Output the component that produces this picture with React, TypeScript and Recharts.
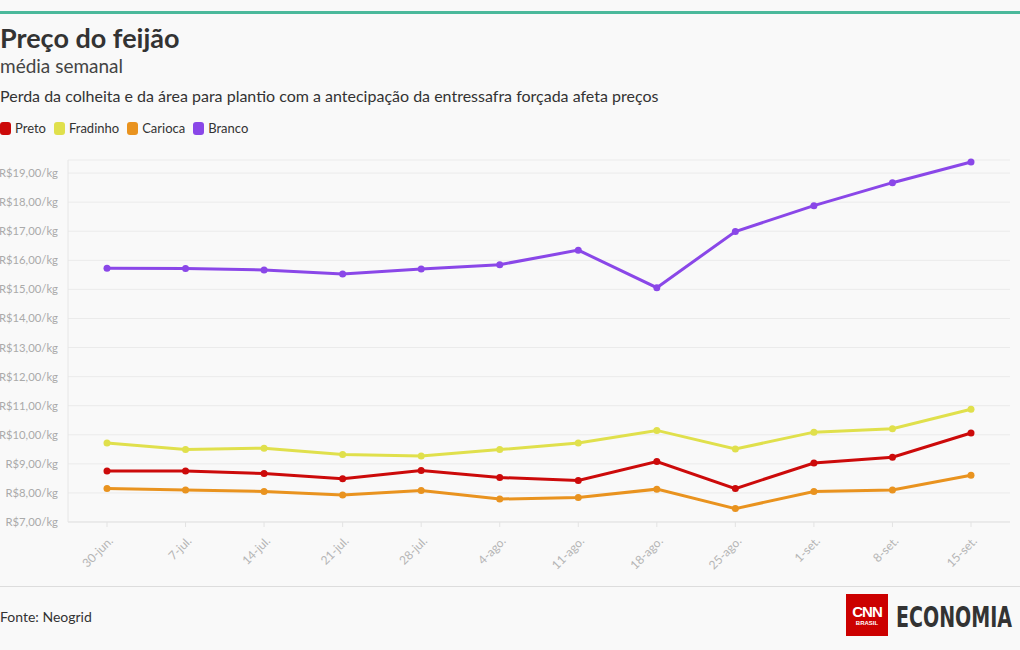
import { LineChart, Line, XAxis, YAxis, CartesianGrid } from 'recharts';

const weeks = ['30-jun.', '7-jul.', '14-jul.', '21-jul.', '28-jul.', '4-ago.', '11-ago.', '18-ago.', '25-ago.', '1-set.', '8-set.', '15-set.'];
const preto = [8.75, 8.75, 8.67, 8.49, 8.77, 8.53, 8.43, 9.08, 8.15, 9.03, 9.23, 10.06];
const fradinho = [9.72, 9.49, 9.54, 9.32, 9.27, 9.49, 9.72, 10.15, 9.51, 10.09, 10.21, 10.88];
const carioca = [8.15, 8.1, 8.05, 7.93, 8.08, 7.79, 7.84, 8.13, 7.46, 8.05, 8.1, 8.61];
const branco = [15.73, 15.72, 15.67, 15.53, 15.7, 15.85, 16.35, 15.06, 16.99, 17.88, 18.67, 19.38];
const yTicks = [7, 8, 9, 10, 11, 12, 13, 14, 15, 16, 17, 18, 19];

const series = [
  { key: 'Preto', color: '#cc0a0a', values: preto },
  { key: 'Fradinho', color: '#e0e04c', values: fradinho },
  { key: 'Carioca', color: '#e9931f', values: carioca },
  { key: 'Branco', color: '#8a47e8', values: branco },
];

const data = weeks.map((w, i) => {
  const row: Record<string, string | number> = { week: w };
  series.forEach((s) => (row[s.key] = s.values[i]));
  return row;
});

const FONT = "Lato, 'Noto Sans', sans-serif";

const fmt = (v: number) => `R$${v.toFixed(2).replace('.', ',')}/kg`;

function XTick(props: any) {
  const { x, y, payload } = props;
  return (
    <g transform={`translate(${x + 4},${y + 10})`}>
      <text transform="rotate(-45)" textAnchor="end" fontSize={12} fill="#b5b5b5" fontFamily={FONT} dy={4}>
        {payload.value}
      </text>
    </g>
  );
}

export default function App() {
  return (
    <div style={{ position: 'fixed', left: 0, top: 0, width: 1020, height: 650, background: '#f9f9f9', fontFamily: FONT, overflow: 'hidden' }}>
      <div style={{ position: 'absolute', left: 0, top: 11, width: 1020, height: 3, background: '#4bb99b' }} />
      <div style={{ position: 'absolute', left: 0, top: 21, fontSize: 27, fontWeight: 700, color: '#333' }}>Preço do feijão</div>
      <div style={{ position: 'absolute', left: 0, top: 54, fontSize: 19, color: '#444' }}>média semanal</div>
      <div style={{ position: 'absolute', left: 0, top: 86, fontSize: 16, color: '#333' }}>
        Perda da colheita e da área para plantio com a antecipação da entressafra forçada afeta preços
      </div>
      <div style={{ position: 'absolute', left: 0, top: 120, display: 'flex', alignItems: 'center', fontSize: 13, color: '#333' }}>
        {series.map((s) => (
          <div key={s.key} style={{ display: 'flex', alignItems: 'center', marginRight: 8 }}>
            <span style={{ width: 11, height: 13, borderRadius: 3, background: s.color, marginRight: 4, display: 'inline-block' }} />
            {s.key}
          </div>
        ))}
      </div>

      <div style={{ position: 'absolute', left: 0, top: 150 }}>
        <LineChart width={1020} height={432} data={data} margin={{ top: 10, right: 10, bottom: 0, left: 0 }}>
          <CartesianGrid vertical={false} stroke="#ebebeb" />
          <XAxis
            dataKey="week"
            padding={{ left: 39, right: 39 }}
            axisLine={{ stroke: '#e3e3e3' }}
            tickLine={{ stroke: '#e3e3e3' }}
            tickSize={5}
            height={60}
            interval={0}
            tick={<XTick />}
          />
          <YAxis
            width={68}
            domain={[7, 19.45]}
            ticks={yTicks}
            tickFormatter={fmt}
            axisLine={{ stroke: '#e6e6e6' }}
            tickLine={false}
            tickSize={0}
            tickMargin={10}
            tick={{ fontSize: 11.3, fill: '#aaaaaa', fontFamily: FONT }}
          />
          {series.map((s) => (
            <Line
              key={s.key}
              dataKey={s.key}
              stroke={s.color}
              strokeWidth={3}
              dot={{ r: 3.5, fill: s.color, stroke: s.color, strokeWidth: 0 }}
              activeDot={false}
              isAnimationActive={false}
            />
          ))}
        </LineChart>
      </div>

      <div style={{ position: 'absolute', left: 0, top: 586, width: 1020, height: 1, background: '#dddddd' }} />
      <div style={{ position: 'absolute', left: 0, top: 608, fontSize: 14, color: '#333' }}>Fonte: Neogrid</div>
      <div
        style={{
          position: 'absolute', left: 846, top: 594, width: 42, height: 42, background: '#cc0000', color: '#fff',
          display: 'flex', flexDirection: 'column', alignItems: 'center', justifyContent: 'center', fontFamily: "'Liberation Sans', sans-serif",
        }}
      >
        <span style={{ fontSize: 15, fontWeight: 700, letterSpacing: -1, lineHeight: '15px' }}>CNN</span>
        <span style={{ fontSize: 6, fontWeight: 700, lineHeight: '8px' }}>BRASIL</span>
      </div>
      <svg style={{ position: 'absolute', left: 896, top: 592 }} width={122} height={46}>
        <text
          x={0}
          y={35}
          fontSize={29}
          fontWeight={700}
          fill="#333"
          fontFamily="'DejaVu Sans Condensed', 'Liberation Sans', sans-serif"
          textLength={116}
          lengthAdjust="spacingAndGlyphs"
        >
          ECONOMIA
        </text>
      </svg>
    </div>
  );
}
